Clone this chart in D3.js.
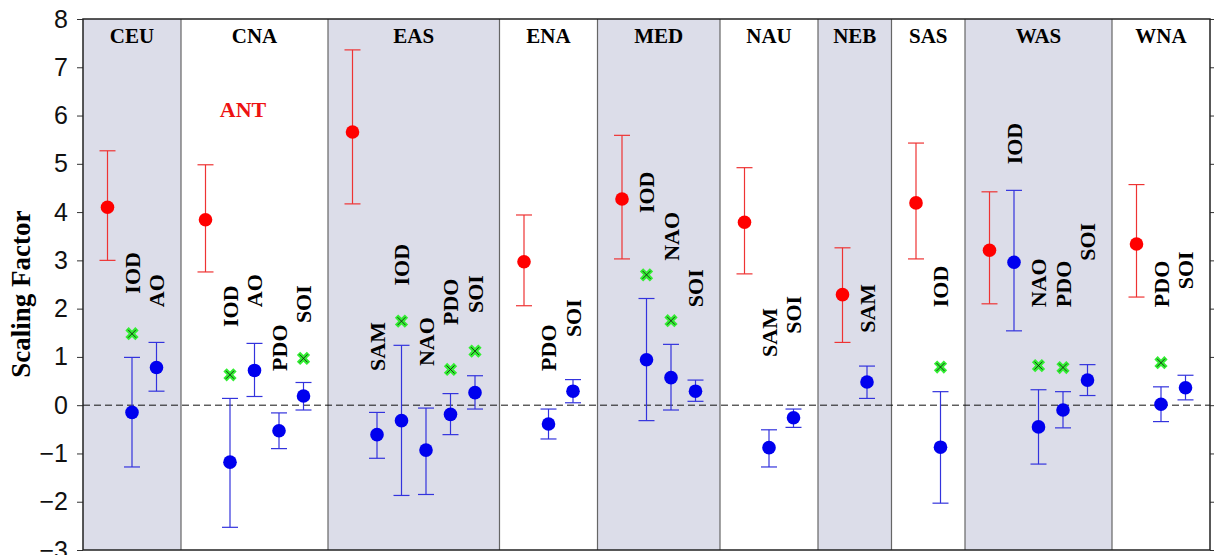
<!DOCTYPE html>
<html>
<head>
<meta charset="utf-8">
<script src="https://cdn.jsdelivr.net/npm/d3@7"></script>
<style>
  body { margin: 0; background: #fff; }
  svg { display: block; }
</style>
</head>
<body>
<div id="chart"></div>
<script>
// regions and the ANT scaling factor with its 5-95% range
const regions = ["CEU", "CNA", "EAS", "ENA", "MED", "NAU", "NEB", "SAS", "WAS", "WNA"];
const antMid = [4.10, 3.84, 5.66, 2.97, 4.27, 3.79, 2.29, 4.19, 3.21, 3.34];
const antLo  = [3.00, 2.76, 4.17, 2.06, 3.03, 2.72, 1.30, 3.03, 2.10, 2.24];
const antHi  = [5.27, 4.98, 7.36, 3.94, 5.59, 4.92, 3.26, 5.43, 4.42, 4.57];

// internal modes, one entry each
const modeRegion = ["CEU","CEU","CNA","CNA","CNA","CNA","EAS","EAS","EAS","EAS","EAS","ENA","ENA",
                    "MED","MED","MED","NAU","NAU","NEB","SAS","WAS","WAS","WAS","WAS","WNA","WNA"];
const modeName = ["IOD","AO","IOD","AO","PDO","SOI","SAM","IOD","NAO","PDO","SOI","PDO","SOI",
                  "IOD","NAO","SOI","SAM","SOI","SAM","IOD","IOD","NAO","PDO","SOI","PDO","SOI"];
const modeMid = [-0.15, 0.78, -1.18, 0.72, -0.53, 0.19, -0.61, -0.32, -0.93, -0.19, 0.26, -0.39, 0.29,
                 0.94, 0.57, 0.29, -0.88, -0.26, 0.48, -0.87, 2.96, -0.45, -0.10, 0.52, 0.02, 0.36];
const modeLo  = [-1.28, 0.29, -2.53, 0.18, -0.90, -0.10, -1.10, -1.87, -1.85, -0.61, -0.08, -0.70, 0.05,
                 -0.32, -0.10, 0.08, -1.28, -0.46, 0.14, -2.03, 1.54, -1.22, -0.47, 0.20, -0.34, 0.11];
const modeHi  = [0.99, 1.30, 0.14, 1.28, -0.16, 0.47, -0.15, 1.24, -0.06, 0.24, 0.61, -0.08, 0.53,
                 2.21, 1.26, 0.52, -0.51, -0.08, 0.81, 0.28, 4.45, 0.32, 0.28, 0.84, 0.38, 0.62];
// green cross: value from the other estimate, null where none is drawn
const modeStar = [1.48, null, 0.63, null, null, 0.97, null, 1.74, null, 0.74, 1.12, null, null,
                  2.70, 1.75, null, null, null, null, 0.79, null, 0.82, 0.78, null, 0.88, null];
// value where each rotated name starts
const modeLabelAt = [2.31, 2.03, 1.62, 2.03, 0.71, 1.70, 0.71, 2.48, 0.81, 1.66, 1.91, 0.71, 1.41,
                     3.98, 2.99, 2.03, 1.00, 1.48, 1.50, 2.03, 4.99, 2.03, 2.03, 2.99, 2.03, 2.40];

const yTicks = [-3, -2, -1, 0, 1, 2, 3, 4, 5, 6, 7, 8];

const margin = { top: 19, left: 83, right: 4, bottom: 5 },
      W = 1214, H = 555,
      width = W - margin.left - margin.right,
      height = H - margin.top - margin.bottom;

const svg = d3.select("#chart").append("svg")
    .attr("width", W).attr("height", H);
const plot = svg.append("g")
    .attr("transform", "translate(" + margin.left + "," + margin.top + ")");

// slot layout: each panel = 1 gap + one slot per point
let slot = 0;
const panels = regions.map(function(r, i) {
  const n = 1 + modeRegion.filter(m => m === r).length;
  const p = { region: r, i: i, start: slot, end: slot + n + 1 };
  slot = p.end;
  return p;
});
const modes = modeName.map(function(name, i) {
  return { region: modeRegion[i], name: name, mid: modeMid[i], lo: modeLo[i], hi: modeHi[i],
           star: modeStar[i], labelAt: modeLabelAt[i] };
});
panels.forEach(function(p) {
  modes.filter(m => m.region === p.region).forEach(function(m, k) { m.u = p.start + 2 + k; });
});

const x = d3.scaleLinear().domain([0, slot]).range([0, width]);
const y = d3.scaleLinear().domain([-3, 8]).range([height, 0]);

// panel backgrounds
plot.selectAll(".panel").data(panels).enter().append("rect")
    .attr("x", d => x(d.start)).attr("width", d => x(d.end) - x(d.start))
    .attr("y", 0).attr("height", height)
    .attr("fill", d => d.i % 2 === 0 ? "#dcdde9" : "#ffffff");

plot.selectAll(".divider").data(panels.slice(1)).enter().append("line")
    .attr("x1", d => x(d.start)).attr("x2", d => x(d.start))
    .attr("y1", 0).attr("y2", height)
    .attr("stroke", "#666").attr("stroke-width", 1.2);

// zero line
plot.append("line")
    .attr("x1", 0).attr("x2", width).attr("y1", y(0)).attr("y2", y(0))
    .attr("stroke", "#111").attr("stroke-width", 1).attr("stroke-dasharray", "7,4");

// axes
const yAxis = plot.append("g")
    .call(d3.axisLeft(y).tickValues(yTicks).tickSize(6).tickPadding(9));
yAxis.selectAll("text").attr("font-family", "Liberation Sans, Arial, sans-serif")
    .attr("font-size", 25).attr("fill", "#111");
yAxis.selectAll("line").attr("stroke", "#333");
yAxis.select(".domain").remove();

const yAxisR = plot.append("g").attr("transform", "translate(" + width + ",0)")
    .call(d3.axisRight(y).tickValues(yTicks).tickSize(6).tickFormat(""));
yAxisR.selectAll("line").attr("stroke", "#333");
yAxisR.select(".domain").remove();

plot.append("rect")
    .attr("width", width).attr("height", height)
    .attr("fill", "none").attr("stroke", "#222").attr("stroke-width", 1.5);

svg.append("text")
    .attr("transform", "translate(" + 30 + "," + (margin.top + y(2.3)) + ") rotate(-90)")
    .attr("text-anchor", "middle")
    .attr("font-family", "Liberation Serif, Times New Roman, serif")
    .attr("font-weight", "bold").attr("font-size", 27)
    .text("Scaling Factor");

// region names
plot.selectAll(".rname").data(panels).enter().append("text")
    .attr("x", d => x((d.start + d.end) / 2)).attr("y", 24)
    .attr("text-anchor", "middle")
    .attr("font-family", "Liberation Serif, Times New Roman, serif")
    .attr("font-weight", "bold").attr("font-size", 21)
    .text(d => d.region);

plot.append("text")
    .attr("x", x(6.53)).attr("y", y(5.98))
    .attr("text-anchor", "middle").attr("fill", "#ee1111")
    .attr("font-family", "Liberation Serif, Times New Roman, serif")
    .attr("font-weight", "bold").attr("font-size", 22)
    .text("ANT");

function errorBars(sel, color) {
  const g = sel.append("g");
  g.append("line").attr("x1", 0).attr("x2", 0)
    .attr("y1", d => y(d.lo)).attr("y2", d => y(d.hi));
  g.append("line").attr("x1", -8).attr("x2", 8)
    .attr("y1", d => y(d.lo)).attr("y2", d => y(d.lo));
  g.append("line").attr("x1", -8).attr("x2", 8)
    .attr("y1", d => y(d.hi)).attr("y2", d => y(d.hi));
  g.selectAll("line").attr("stroke", color).attr("stroke-width", 1.2);
}

// ANT points
const ant = panels.map(p => ({ u: p.start + 1, mid: antMid[p.i], lo: antLo[p.i], hi: antHi[p.i] }));
const antG = plot.selectAll(".ant").data(ant).enter().append("g")
    .attr("transform", d => "translate(" + x(d.u) + ",0)");
errorBars(antG, "#ee3333");
antG.append("circle").attr("cy", d => y(d.mid)).attr("r", 6.8).attr("fill", "#ff0000");

// mode points
const modeG = plot.selectAll(".mode").data(modes).enter().append("g")
    .attr("transform", d => "translate(" + x(d.u) + ",0)");
errorBars(modeG, "#3333dd");
modeG.append("circle").attr("cy", d => y(d.mid)).attr("r", 6.8).attr("fill", "#0000ee");

const stars = modeG.filter(d => d.star !== null);
stars.append("path")
    .attr("d", d3.symbol().type(d3.symbolCross).size(110))
    .attr("transform", d => "translate(0," + y(d.star) + ") rotate(45)")
    .attr("fill", "#33ee33");
stars.append("path")
    .attr("d", "M-4,-4L4,4M-4,4L4,-4")
    .attr("transform", d => "translate(0," + y(d.star) + ")")
    .attr("stroke", "#111").attr("stroke-width", 0.8);

modeG.append("text")
    .attr("transform", d => "translate(0," + y(d.labelAt) + ") rotate(-90)")
    .attr("dy", "0.35em")
    .attr("font-family", "Liberation Serif, Times New Roman, serif")
    .attr("font-weight", "bold").attr("font-size", 22)
    .text(d => d.name);
</script>
</body>
</html>
